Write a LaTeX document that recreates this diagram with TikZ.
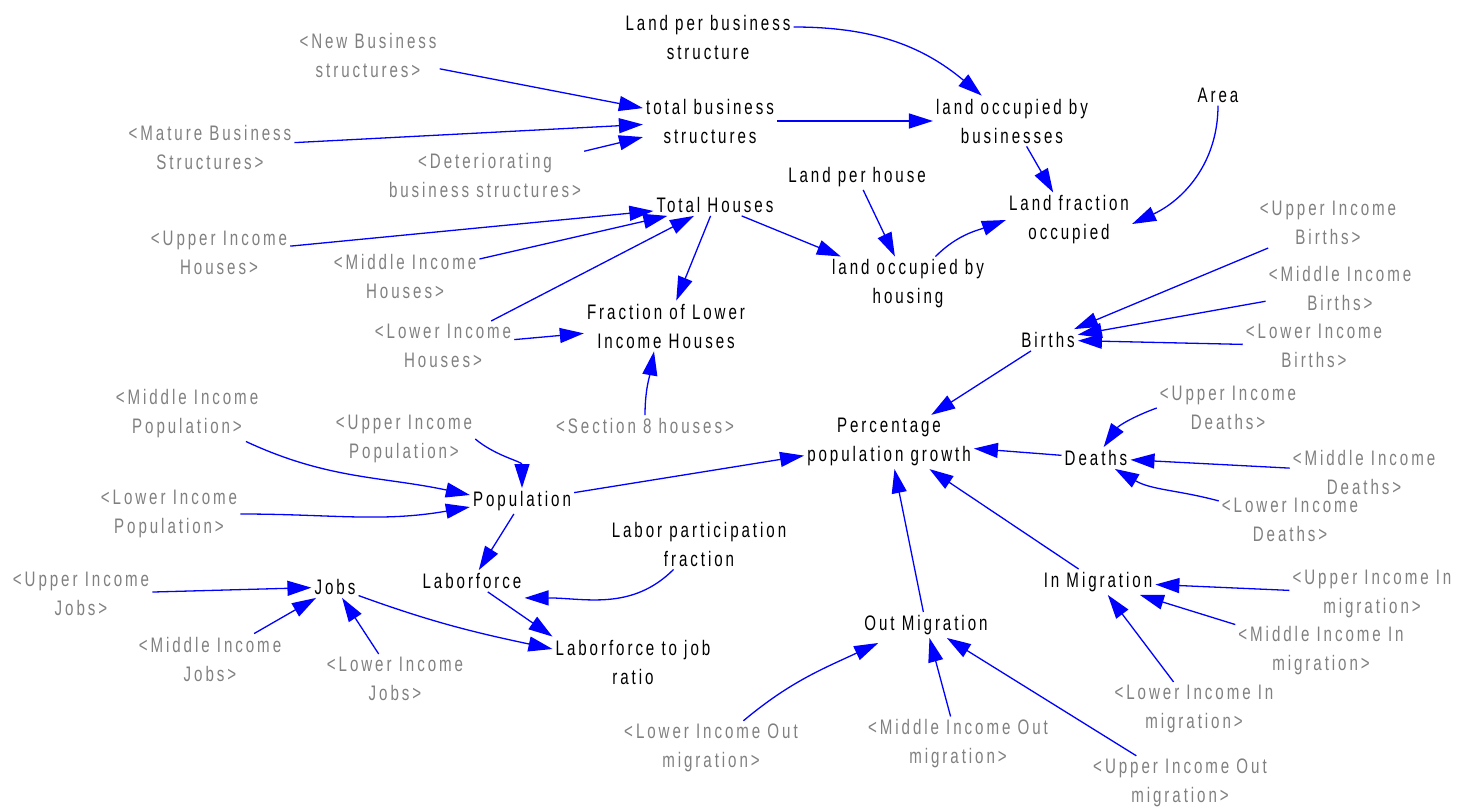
\documentclass[tikz,border=0pt]{standalone}
\usepackage{fontspec}
\setmainfont{Liberation Sans}[FakeStretch=0.72,LetterSpace=14]
\usetikzlibrary{arrows.meta}
\definecolor{linkblue}{RGB}{0,0,255}
\definecolor{shadowgray}{RGB}{128,128,128}
\newcommand\varfont{\fontsize{21}{29}\selectfont}
\tikzset{
  var/.style={font=\varfont, text=black, align=center, inner sep=3pt, yshift=-2pt},
  shadow/.style={var, text=shadowgray},
  cause/.style={draw=linkblue, line width=1.3pt, -{Triangle[length=24pt,width=15pt]}},
}
\begin{document}
\begin{tikzpicture}[x=1pt,y=-1pt]
\useasboundingbox (0,0) rectangle (1468,810);

% ---- land use ----
\node[var]    (lpbs)  at (708,35)   {Land per business\\structure};
\node[shadow] (newbs) at (368,53)   {<New Business\\structures>};
\node[var]    (tbs)   at (710,119)  {total business\\structures};
\node[shadow] (matbs) at (210,145)  {<Mature Business\\Structures>};
\node[shadow] (detbs) at (485,173)  {<Deteriorating\\business structures>};
\node[var]    (lob)   at (1012,119) {land occupied by\\businesses};
\node[var]    (area)  at (1218,93)  {Area};
\node[var]    (lph)   at (857,175)  {Land per house};
\node[var]    (lfo)   at (1069,218) {Land fraction\\occupied};
\node[var]    (th)    at (715,203)  {Total Houses};
\node[var]    (loh)   at (908,282)  {land occupied by\\housing};
\node[shadow] (uih)   at (219,251)  {<Upper Income\\Houses>};
\node[shadow] (mih)   at (405,274)  {<Middle Income\\Houses>};
\node[shadow] (lih)   at (443,344)  {<Lower Income\\Houses>};
\node[var]    (flih)  at (666,324)  {Fraction of Lower\\Income Houses};
\node[shadow] (s8)    at (645,424)  {<Section 8 houses>};

% ---- population growth ----
\node[shadow] (uib)    at (1328,221) {<Upper Income\\Births>};
\node[shadow] (mib)    at (1340,286) {<Middle Income\\Births>};
\node[shadow] (lib)    at (1314,344) {<Lower Income\\Births>};
\node[var]    (births) at (1048,338) {Births};
\node[var]    (ppg)    at (889,440)  {Percentage\\population growth};
\node[var]    (deaths) at (1096,456) {Deaths};
\node[shadow] (uid)    at (1228,406) {<Upper Income\\Deaths>};
\node[shadow] (mid)    at (1364,470) {<Middle Income\\Deaths>};
\node[shadow] (lid)    at (1290,518) {<Lower Income\\Deaths>};
\node[var]    (inmig)  at (1098,580) {In Migration};
\node[var]    (outmig) at (926,623)  {Out Migration};
\node[shadow] (uiim)   at (1372,592) {<Upper Income In\\migration>};
\node[shadow] (miim)   at (1321,649) {<Middle Income In\\migration>};
\node[shadow] (liim)   at (1194,707) {<Lower Income In\\migration>};
\node[shadow] (lio)    at (711,746)  {<Lower Income Out\\migration>};
\node[shadow] (mio)    at (958,742)  {<Middle Income Out\\migration>};
\node[shadow] (uio)    at (1180,781) {<Upper Income Out\\migration>};

% ---- population, labour and jobs ----
\node[shadow] (mipop) at (187,412) {<Middle Income\\Population>};
\node[shadow] (uipop) at (404,437) {<Upper Income\\Population>};
\node[shadow] (lipop) at (169,512) {<Lower Income\\Population>};
\node[var]    (pop)   at (522,499) {Population};
\node[var]    (lpf)   at (699,542) {Labor participation\\fraction};
\node[var]    (lf)    at (472,579) {Laborforce};
\node[var]    (jobs)  at (335,585) {Jobs};
\node[shadow] (uij)   at (81,592)  {<Upper Income\\Jobs>};
\node[shadow] (mij)   at (210,657) {<Middle Income\\Jobs>};
\node[shadow] (lij)   at (395,677) {<Lower Income\\Jobs>};
\node[var]    (ltj)   at (633,660) {Laborforce to job\\ratio};

% ---- causal links ----
\draw[cause] (newbs) -- (tbs);
\draw[cause] (matbs) -- (tbs);
\draw[cause] (detbs) -- (tbs);
\draw[cause] (tbs) -- (lob);
\draw[cause] ([yshift=10pt]lpbs.east) to[out=0,in=140] (lob);
\draw[cause] (lob) -- (lfo);
\draw[cause] (area.south) to[out=-90,in=25] ([yshift=-4pt]lfo.east);
\draw[cause] (lph) -- (loh);
\draw[cause] (th) -- (loh);
\draw[cause] (loh) to[out=45,in=200] (lfo.west);
\draw[cause] (uih) -- (th);
\draw[cause] (mih) -- (th);
\draw[cause] (lih) -- (th);
\draw[cause] (th) -- (flih);
\draw[cause] (lih) -- (flih);
\draw[cause] (s8) to[out=90,in=260] ([xshift=-12pt]flih.south);

\draw[cause] (uib) -- (births);
\draw[cause] (mib) -- (births);
\draw[cause] (lib) -- (births);
\draw[cause] (births) -- (ppg);
\draw[cause] (deaths) -- (ppg);
\draw[cause] (uid.west) to[out=200,in=55] (deaths);
\draw[cause] (mid) -- (deaths);
\draw[cause] (lid) to[out=165,in=-30] (deaths);
\draw[cause] (inmig) -- (ppg);
\draw[cause] (outmig) -- (ppg);
\draw[cause] (uiim) -- (inmig);
\draw[cause] (miim) -- (inmig);
\draw[cause] (liim) -- (inmig);
\draw[cause] (lio) to[out=40,in=205] ([xshift=17pt,yshift=-5pt]outmig.south west);
\draw[cause] (mio) -- (outmig);
\draw[cause] (uio) -- (outmig);

\draw[cause] (pop) -- (ppg);
\draw[cause] (mipop) to[out=-25,in=168] ([yshift=6pt]pop.west);
\draw[cause] (uipop.east) to[out=-40,in=90] (pop);
\draw[cause] (lipop) to[out=0,in=190] ([yshift=-6pt]pop.west);
\draw[cause] (pop) -- (lf);
\draw[cause] (lpf) to[out=225,in=0] ([yshift=-6pt]lf.south east);
\draw[cause] (lf) -- (ltj.north west);
\draw[cause] (jobs) to[out=-20,in=168] ([yshift=13pt]ltj.west);
\draw[cause] (uij) -- (jobs);
\draw[cause] (mij) -- (jobs);
\draw[cause] (lij) -- (jobs);
\end{tikzpicture}
\end{document}
